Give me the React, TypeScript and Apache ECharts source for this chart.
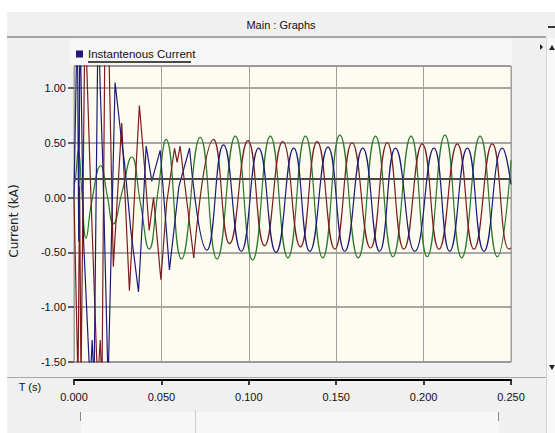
import React, { useEffect, useRef } from 'react';
import * as echarts from 'echarts';

const TITLE = 'Main : Graphs';
const LEGEND_LABEL = 'Instantenous Current';
const Y_TITLE = 'Current (kA)';
const X_TITLE = 'T (s)';

const Y_MIN = -1.5;
const Y_MAX = 1.2;
const Y_STEP = 0.5;
const X_MIN = 0;
const X_MAX = 0.25;
const X_STEP = 0.05;
const MARKER_LEVEL = 0.17;

// phase C (green) — [time s, current kA]
const greenPoints: [number, number][] = [
  [0, 0.12], [0.0008, 0.17], [0.0025, 0.43], [0.0045, 0.05], [0.0069, -0.37],
  [0.01, -0.05], [0.0153, 0.29], [0.019, 0.02], [0.0225, -0.24], [0.0275, 0.05],
  [0.033, 0.37], [0.038, -0.05], [0.043, -0.47], [0.048, 0.05], [0.0527, 0.53],
  [0.0615, -0.56], [0.0722, 0.55], [0.0818, -0.56], [0.0923, 0.56], [0.1022, -0.57],
  [0.1123, 0.56], [0.1224, -0.55], [0.1324, 0.56], [0.1423, -0.55], [0.1521, 0.57],
  [0.1626, -0.55], [0.1725, 0.56], [0.1824, -0.54], [0.1928, 0.56], [0.2021, -0.54],
  [0.2122, 0.57], [0.2218, -0.55], [0.2323, 0.56], [0.2422, -0.54], [0.25, 0.34],
];

// phase B (red)
const redTransient: [number, number][] = [
  [0, 0], [0.0023, -1.7], [0.0032, 0.1], [0.004, -1.7], [0.0063, 1.7],
  [0.0095, 0.1], [0.0135, -1.7], [0.015, -1.3], [0.016, -1.7], [0.0178, 1.7],
  [0.0195, 1.7], [0.0225, -0.63], [0.0273, 0.68], [0.0317, -0.85], [0.0374, 0.84],
  [0.0405, 0.25], [0.043, -0.3], [0.0455, 0], [0.0497, -0.75], [0.053, -0.05],
  [0.0575, 0.45], [0.059, 0.32], [0.0607, 0.47], [0.0685, -0.55],
];
const redSteady: [number, number][] = [
  [0.0685, -0.55], [0.0798, 0.53], [0.089, -0.42], [0.0995, 0.52], [0.109, -0.44],
  [0.1194, 0.51], [0.1295, -0.45], [0.1391, 0.51], [0.1492, -0.47], [0.1591, 0.5],
  [0.1696, -0.46], [0.1792, 0.5], [0.1887, -0.47], [0.1992, 0.49], [0.2088, -0.47],
  [0.2193, 0.49], [0.2288, -0.47], [0.2393, 0.49], [0.2488, -0.47], [0.25, -0.46],
];

// phase A (blue)
const blueTransient: [number, number][] = [
  [0, 0], [0.0019, 1.7], [0.0027, -0.4], [0.0034, 1.7], [0.0055, -0.4],
  [0.0092, -1.7], [0.0104, -1.3], [0.0115, -1.7], [0.0138, 1.7], [0.015, 1.0],
  [0.0165, 0.3], [0.0195, -1.7], [0.0235, 1.05], [0.027, 0.55], [0.029, 0.3],
  [0.0325, -0.3], [0.0369, -0.86], [0.0395, -0.1], [0.0413, 0.47], [0.0445, 0.15],
  [0.0493, 0.43], [0.0546, -0.66], [0.06, 0.1], [0.0661, 0.45],
];
const blueSteady: [number, number][] = [
  [0.0661, 0.45], [0.076, -0.48], [0.0855, 0.48], [0.0957, -0.49], [0.1056, 0.45],
  [0.1156, -0.5], [0.1257, 0.45], [0.1349, -0.49], [0.1453, 0.46], [0.1549, -0.49],
  [0.1652, 0.45], [0.1748, -0.49], [0.1839, 0.45], [0.195, -0.49], [0.2059, 0.45],
  [0.2149, -0.49], [0.225, 0.45], [0.2345, -0.49], [0.2451, 0.45], [0.25, 0.12],
];

const BLUE = '#1b1b78';
const RED = '#7a1e1e';
const GREEN = '#2a7a2a';
const SANS = '"Liberation Sans", Arial, sans-serif';

export default function App() {
  const ref = useRef<HTMLDivElement>(null);

  useEffect(() => {
    const chart = echarts.init(ref.current as HTMLDivElement, null, { renderer: 'svg' });
    const line = (name: string, data: [number, number][], color: string, smooth: boolean, extra: any = {}) => ({
      name,
      type: 'line',
      data,
      smooth,
      showSymbol: false,
      symbol: 'none',
      clip: true,
      lineStyle: { color, width: 1.2 },
      itemStyle: { color },
      ...extra,
    });

    chart.setOption({
      animation: false,
      backgroundColor: '#f0f0f0',
      grid: {
        left: 74,
        right: 44,
        top: 66,
        bottom: 71,
        show: true,
        backgroundColor: '#fefcf1',
        borderColor: '#9a9a9a',
        borderWidth: 1,
        containLabel: false,
      },
      legend: {
        show: true,
        data: [LEGEND_LABEL],
        left: 76,
        top: 48,
        padding: 0,
        icon: 'rect',
        itemWidth: 7,
        itemHeight: 7,
        selectedMode: false,
        textStyle: { fontFamily: SANS, fontSize: 11.5, color: '#111' },
      },
      xAxis: {
        type: 'value',
        min: X_MIN,
        max: X_MAX,
        interval: X_STEP,
        position: 'bottom',
        offset: 18,
        axisLine: { show: true, onZero: false, lineStyle: { color: '#000', width: 2 } },
        axisTick: { show: true, length: 5, lineStyle: { color: '#000', width: 1.5 } },
        axisLabel: {
          margin: 11,
          fontFamily: SANS,
          fontSize: 11,
          color: '#111',
          formatter: (v: number) => v.toFixed(3),
        },
        splitLine: { show: true, lineStyle: { color: '#a0a0a0', width: 1 } },
      },
      yAxis: {
        type: 'value',
        min: Y_MIN,
        max: Y_MAX,
        interval: Y_STEP,
        axisLine: { show: false, onZero: false },
        axisTick: { show: true, length: 6, lineStyle: { color: '#333', width: 1.5 } },
        axisLabel: {
          margin: 8,
          fontFamily: SANS,
          fontSize: 11,
          color: '#111',
          showMaxLabel: false,
          formatter: (v: number) => v.toFixed(2),
        },
        splitLine: { show: true, lineStyle: { color: '#8a8a8a', width: 1.6 } },
      },
      series: [
        line('Phase C', greenPoints, GREEN, true, {
          markLine: {
            silent: true,
            symbol: 'none',
            label: { show: false },
            lineStyle: { color: '#474747', width: 2, type: 'solid' },
            data: [{ yAxis: MARKER_LEVEL }],
          },
        }),
        line('Phase B', redTransient, RED, false),
        line('Phase B', redSteady, RED, true),
        line(LEGEND_LABEL, blueTransient, BLUE, false),
        line(LEGEND_LABEL, blueSteady, BLUE, true),
      ],
      graphic: [
        { type: 'rect', silent: true, shape: { x: 0, y: 0, width: 555, height: 12 }, style: { fill: '#ffffff' } },
        { type: 'rect', silent: true, shape: { x: 0, y: 0, width: 7, height: 433 }, style: { fill: '#ffffff' } },
        { type: 'rect', silent: true, shape: { x: 547, y: 38, width: 8, height: 395 }, style: { fill: '#f8f8f8' } },
        { type: 'line', silent: true, shape: { x1: 546.5, y1: 38, x2: 546.5, y2: 433 }, style: { stroke: '#d6d6d6', lineWidth: 1 } },
        { type: 'rect', silent: true, z: -1, shape: { x: 70, y: 39, width: 442, height: 26 }, style: { fill: '#f7f7f7' } },
        {
          type: 'text', silent: true, x: 281, y: 25,
          style: { text: TITLE, fill: '#111', font: `11px ${SANS}`, align: 'center', verticalAlign: 'middle' },
        },
        { type: 'line', silent: true, shape: { x1: 7, y1: 37, x2: 546, y2: 37 }, style: { stroke: '#8c8c8c', lineWidth: 1.5 } },
        { type: 'line', silent: true, shape: { x1: 548, y1: 27, x2: 555, y2: 27 }, style: { stroke: '#333', lineWidth: 2 } },
        { type: 'polygon', silent: true, shape: { points: [[549, 50], [552, 45], [555, 50]] }, style: { fill: '#222' } },
        { type: 'polygon', silent: true, shape: { points: [[549, 365], [552, 370], [555, 365]] }, style: { fill: '#222' } },
        { type: 'polygon', silent: true, shape: { points: [[540, 44], [543, 47], [540, 50]] }, style: { fill: '#222' } },
        { type: 'line', silent: true, shape: { x1: 88, y1: 62, x2: 191, y2: 62 }, style: { stroke: '#111', lineWidth: 1.5 } },
        {
          type: 'text', silent: true, x: 14, y: 221, rotation: Math.PI / 2,
          style: { text: Y_TITLE, fill: '#222', font: `12px "DejaVu Sans", Verdana, sans-serif`, align: 'center', verticalAlign: 'middle' },
        },
        {
          type: 'text', silent: true, x: 30, y: 387,
          style: { text: X_TITLE, fill: '#111', font: `11px ${SANS}`, align: 'center', verticalAlign: 'middle' },
        },
        { type: 'line', silent: true, shape: { x1: 7, y1: 377.5, x2: 546, y2: 377.5 }, style: { stroke: '#a8a8a8', lineWidth: 1 } },
        { type: 'rect', silent: true, shape: { x: 81, y: 412, width: 418, height: 21 }, style: { fill: '#f7f7f7' } },
        { type: 'line', silent: true, shape: { x1: 80.5, y1: 412, x2: 80.5, y2: 421 }, style: { stroke: '#888', lineWidth: 1 } },
        { type: 'line', silent: true, shape: { x1: 195.5, y1: 410, x2: 195.5, y2: 433 }, style: { stroke: '#cfcfcf', lineWidth: 1 } },
        { type: 'line', silent: true, shape: { x1: 498.5, y1: 412, x2: 498.5, y2: 421 }, style: { stroke: '#888', lineWidth: 1 } },
      ],
    });
    return () => chart.dispose();
  }, []);

  return <div ref={ref} style={{ position: 'fixed', left: 0, top: 0, width: 555, height: 433 }} />;
}
